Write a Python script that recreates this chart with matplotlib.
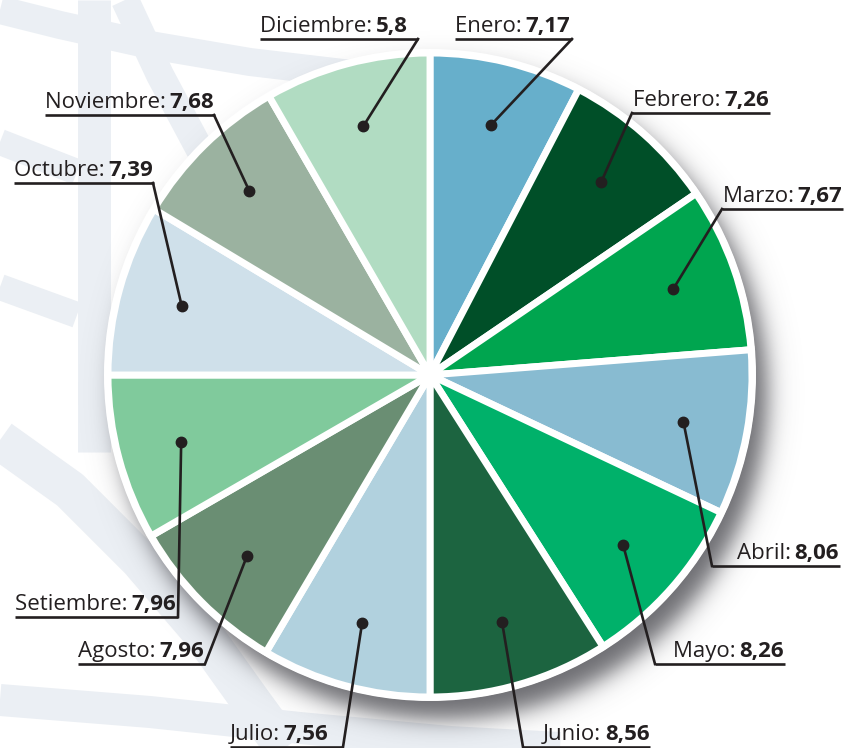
import numpy as np
import matplotlib.pyplot as plt
from matplotlib.patches import Circle

# monthly values (labels) and the share of the circle each slice takes in the picture
months = ['Enero', 'Febrero', 'Marzo', 'Abril', 'Mayo', 'Junio',
          'Julio', 'Agosto', 'Setiembre', 'Octubre', 'Noviembre', 'Diciembre']
values = [7.17, 7.26, 7.67, 8.06, 8.26, 8.56, 7.56, 7.96, 7.96, 7.39, 7.68, 5.8]
slice_deg = [27.5, 28.2, 29.8, 29.8, 32.2, 32.5, 30.6, 29.4, 30.0, 31.0, 29.0, 30.0]
colors = ['#67afcb', '#004f28', '#00a54f', '#88bbd1', '#00b16a', '#1c6440',
          '#b1d1de', '#6a8e73', '#80ca9c', '#cfe0ea', '#9bb2a0', '#b1dcc2']

# label layout, in pixels of the 856x748 picture (y going down)
text_x = [455, 633, 723, 737, 673, 543, 230, 78, 15, 14, 45, 260]
line_y = [39, 113, 209, 566, 664, 747, 747, 664, 617, 183, 115, 39]
join_x = [572, 632, 722, 712, 655, 523, 343, 205, 178, 153, 214, 418]

W, H = 856, 748
CX, CY, R = 430, H - 375, 322
INK = '#231f20'
BAND = '#ebeff4'

fig = plt.figure(figsize=(W / 100, H / 100), dpi=100)
ax = fig.add_axes([0, 0, 1, 1])
ax.set_xlim(0, W)
ax.set_ylim(0, H)
ax.set_axis_off()

#faint watermark bands in the background
bands = [
    ([94, 94], [0, 452], 33),
    ([0, 60, 150, 250, 360], [10, 25, 45, 62, 75], 28),
    ([0, 77], [142, 172], 26),
    ([0, 77], [287, 315], 26),
    ([125, 160, 200], [0, 75, 150], 28),
    ([0, 70, 140, 200, 250, 285], [440, 490, 560, 630, 700, 748], 40),
    ([0, 150, 300, 450, 560], [700, 712, 728, 742, 748], 32),
]
for bx, by, bw in bands:
    ax.plot(bx, [H - v for v in by], color=BAND, lw=bw * 0.72,
            solid_capstyle='butt', solid_joinstyle='round', zorder=0)

#soft drop shadow to the lower right
yy, xx = np.mgrid[0:H, 0:W]
d = np.hypot(xx - (CX + 11), yy - (375 + 18))
alpha = 0.8 / (1 + np.exp((d - 326) / 7.0))
shadow = np.zeros((H, W, 4))
shadow[..., :3] = np.array([70, 70, 76]) / 255
shadow[..., 3] = alpha
ax.imshow(shadow, extent=(0, W, 0, H), origin='upper', zorder=1, interpolation='bilinear')

ax.add_patch(Circle((CX, CY), R + 4, facecolor='white', edgecolor='none', zorder=2))
wedges, _ = ax.pie(slice_deg, colors=colors, startangle=90, counterclock=False,
                   center=(CX, CY), radius=R, frame=True,
                   wedgeprops=dict(edgecolor='white', linewidth=5, zorder=3))
ax.set_xlim(0, W)
ax.set_ylim(0, H)
ax.set_aspect('equal')
ax.set_axis_off()

renderer = fig.canvas.get_renderer()
inv = ax.transData.inverted()
font = 'Open Sans'
fs = 16
for i, w in enumerate(wedges):
    mid = np.deg2rad((w.theta1 + w.theta2) / 2)
    dx, dy = CX + 0.8 * R * np.cos(mid), CY + 0.8 * R * np.sin(mid)
    ly = H - line_y[i]
    t1 = ax.text(text_x[i], ly + 7, months[i] + ': ', fontsize=fs, family=font,
                 color=INK, va='baseline', ha='left', zorder=6)
    bb = inv.transform(t1.get_window_extent(renderer).get_points())
    t2 = ax.text(bb[1, 0] - 2, ly + 7, str(values[i]).replace('.', ','), fontsize=fs,
                 family=font, weight='bold', color=INK, va='baseline', ha='left', zorder=6)
    bb2 = inv.transform(t2.get_window_extent(renderer).get_points())
    x0 = min(text_x[i], join_x[i])
    x1 = max(bb2[1, 0] + 1, join_x[i])
    ax.plot([x0, x1], [ly, ly], color=INK, lw=1.9, solid_capstyle='butt', zorder=6)
    ax.plot([join_x[i], dx], [ly, dy], color=INK, lw=1.9, zorder=6)
    ax.plot(dx, dy, 'o', color=INK, ms=7.5, zorder=7)

fig.savefig('out.png', dpi=100)
